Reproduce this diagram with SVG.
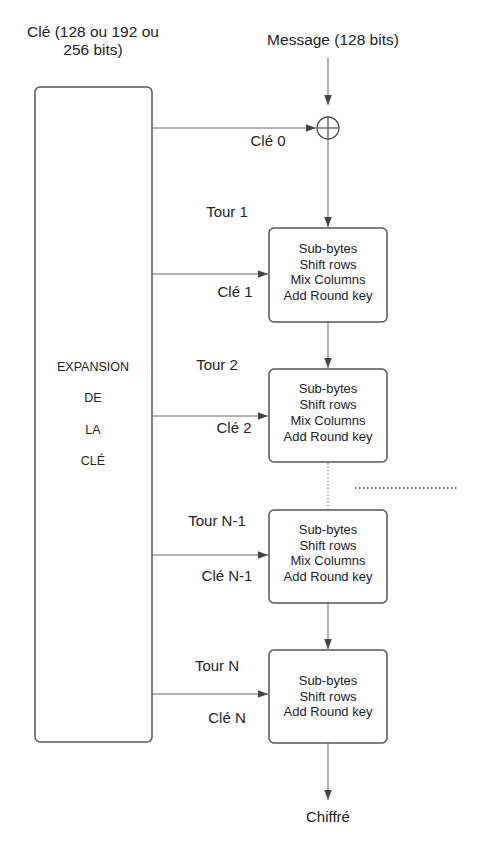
<svg xmlns="http://www.w3.org/2000/svg" width="500" height="860" viewBox="0 0 500 860">
<style>
text{font-family:"Liberation Sans",Arial,sans-serif;fill:#222;text-anchor:middle}
.lbl{font-size:15px}
.big{font-size:15.5px}
.bx{font-size:13px}
.ex{font-size:12.5px}
.node{fill:#fff;stroke:#555;stroke-width:1.5}
.c{stroke:#666;stroke-width:1;fill:none}
.dot{stroke:#777;stroke-width:1;stroke-dasharray:1.5 2;fill:none}
.dot2{stroke:#333;stroke-width:1.5;stroke-dasharray:1.5 2.5;fill:none}
</style>
<defs>
<marker id="ah" markerUnits="userSpaceOnUse" markerWidth="10" markerHeight="10" viewBox="0 0 10 10" refX="10" refY="5" orient="auto">
<path d="M0,1.2 L10,5 L0,8.8 Z" fill="#444"/>
</marker>
</defs>
<rect width="500" height="860" fill="#fff"/>
<g id="labels-top">
<text class="big" x="93" y="37">Clé (128 ou 192 ou</text>
<text class="big" x="93" y="55">256 bits)</text>
<text class="big" x="333" y="45">Message (128 bits)</text>
</g>
<g id="connectors">
<line class="c" x1="328" y1="58" x2="328" y2="105" marker-end="url(#ah)"/>
<line class="c" x1="152" y1="128" x2="316" y2="128" marker-end="url(#ah)"/>
<line class="c" x1="328" y1="139" x2="328" y2="227" marker-end="url(#ah)"/>
<line class="c" x1="328" y1="322" x2="328" y2="368" marker-end="url(#ah)"/>
<line class="dot" x1="328" y1="463" x2="328" y2="510"/>
<line class="c" x1="328" y1="603" x2="328" y2="649" marker-end="url(#ah)"/>
<line class="c" x1="328" y1="743" x2="328" y2="800" marker-end="url(#ah)"/>
<line class="c" x1="152" y1="274" x2="268" y2="274" marker-end="url(#ah)"/>
<line class="c" x1="152" y1="416" x2="268" y2="416" marker-end="url(#ah)"/>
<line class="c" x1="152" y1="555" x2="268" y2="555" marker-end="url(#ah)"/>
<line class="c" x1="152" y1="694" x2="268" y2="694" marker-end="url(#ah)"/>
<line class="dot2" x1="355" y1="488" x2="458" y2="488"/>
</g>
<g id="expansion">
<rect class="node" x="35" y="87" width="117" height="655" rx="5"/>
<text class="ex" x="93" y="371">EXPANSION</text>
<text class="ex" x="93" y="402">DE</text>
<text class="ex" x="93" y="434">LA</text>
<text class="ex" x="93" y="465">CLÉ</text>
</g>
<g id="xor">
<circle cx="328" cy="128" r="11" fill="#fff" stroke="#555" stroke-width="1.3"/>
<line x1="317" y1="128" x2="339" y2="128" stroke="#555" stroke-width="1.3"/>
<line x1="328" y1="117" x2="328" y2="139" stroke="#555" stroke-width="1.3"/>
</g>
<g id="key-labels">
<text class="lbl" x="268" y="146">Clé 0</text>
<text class="lbl" x="227" y="217">Tour 1</text>
<text class="lbl" x="235" y="297">Clé 1</text>
<text class="lbl" x="217" y="370">Tour 2</text>
<text class="lbl" x="234" y="433">Clé 2</text>
<text class="lbl" x="217" y="526">Tour N-1</text>
<text class="lbl" x="227" y="581">Clé N-1</text>
<text class="lbl" x="217" y="671">Tour N</text>
<text class="lbl" x="227" y="723">Clé N</text>
</g>
<g id="round1">
<rect class="node" x="269" y="228" width="118" height="94" rx="5"/>
<text class="bx" x="328" y="253">Sub-bytes</text>
<text class="bx" x="328" y="268.5">Shift rows</text>
<text class="bx" x="328" y="284">Mix Columns</text>
<text class="bx" x="328" y="299.5">Add Round key</text>
</g>
<g id="round2">
<rect class="node" x="269" y="369" width="118" height="93" rx="5"/>
<text class="bx" x="328" y="393">Sub-bytes</text>
<text class="bx" x="328" y="409">Shift rows</text>
<text class="bx" x="328" y="425">Mix Columns</text>
<text class="bx" x="328" y="440.5">Add Round key</text>
</g>
<g id="roundN-1">
<rect class="node" x="269" y="510" width="118" height="93" rx="5"/>
<text class="bx" x="328" y="534">Sub-bytes</text>
<text class="bx" x="328" y="549.5">Shift rows</text>
<text class="bx" x="328" y="565">Mix Columns</text>
<text class="bx" x="328" y="581">Add Round key</text>
</g>
<g id="roundN">
<rect class="node" x="269" y="650" width="118" height="93" rx="5"/>
<text class="bx" x="328" y="685">Sub-bytes</text>
<text class="bx" x="328" y="700.5">Shift rows</text>
<text class="bx" x="328" y="716">Add Round key</text>
</g>
<g id="output">
<text class="lbl" x="328" y="822">Chiffré</text>
</g>
</svg>
